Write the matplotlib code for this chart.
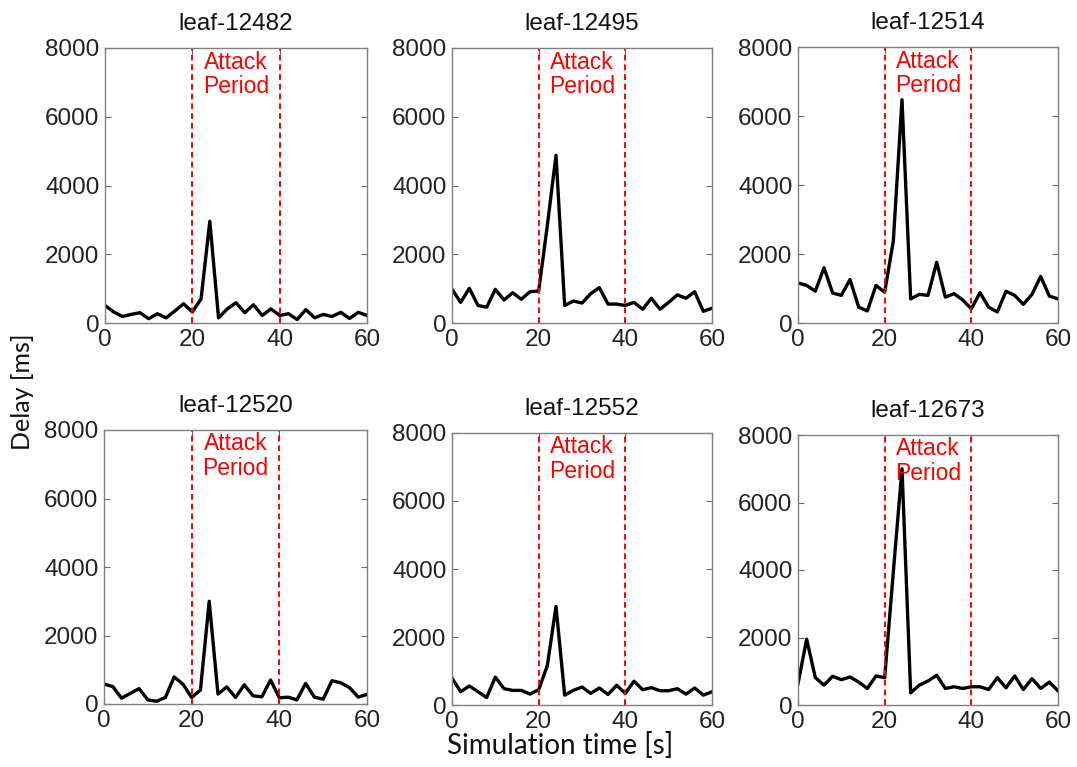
import numpy as np
import matplotlib
matplotlib.use("Agg")
import matplotlib.pyplot as plt

# 0..60 s, one sample every 2 s
t = np.arange(0, 61, 2)

titles = ["leaf-12482", "leaf-12495", "leaf-12514",
          "leaf-12520", "leaf-12552", "leaf-12673"]

leaf_12482 = [510, 320, 190, 250, 300, 125, 270, 150, 350, 560, 320, 700, 2960, 150, 410, 590,
              300, 530, 220, 410, 220, 270, 100, 390, 150, 250, 190, 310, 130, 310, 220]
leaf_12495 = [980, 600, 1010, 510, 460, 980, 670, 880, 690, 910, 930, 2840, 4880, 510, 640, 580,
              850, 1030, 550, 550, 510, 600, 400, 720, 400, 600, 820, 720, 910, 340, 430]
leaf_12514 = [1160, 1090, 920, 1600, 870, 800, 1260, 460, 350, 1090, 890, 2380, 6470, 700, 830, 800,
              1760, 750, 850, 670, 410, 880, 460, 320, 920, 800, 540, 830, 1350, 780, 700]
leaf_12520 = [580, 510, 170, 310, 450, 120, 80, 190, 790, 580, 190, 410, 3000, 290, 500, 190,
              560, 240, 210, 700, 180, 200, 120, 600, 200, 140, 680, 620, 480, 200, 280]
leaf_12552 = [790, 390, 560, 390, 220, 820, 480, 430, 430, 320, 450, 1160, 2900, 290, 430, 530,
              340, 500, 310, 580, 340, 700, 450, 510, 420, 420, 480, 320, 500, 290, 390]
leaf_12673 = [630, 1950, 810, 590, 850, 750, 830, 680, 490, 860, 810, 3950, 7000, 360, 590, 710,
              880, 490, 540, 490, 540, 540, 460, 810, 510, 860, 460, 780, 490, 680, 420]

series = [leaf_12482, leaf_12495, leaf_12514, leaf_12520, leaf_12552, leaf_12673]

attack_start, attack_end = 20, 40

# axes boxes in pixels: left, top, right, bottom
boxes = [(105, 48, 367, 323), (452, 48, 712, 323), (798, 47, 1058, 323),
         (104, 430, 367, 704), (452, 433, 712, 705), (798, 435, 1058, 705)]

W, H = 1077, 767
fig = plt.figure(figsize=(W / 100, H / 100), dpi=100)
arial = ["Liberation Sans", "DejaVu Sans"]

for (l, tp, r, b), name, y in zip(boxes, titles, series):
    ax = fig.add_axes([l / W, (H - b) / H, (r - l) / W, (b - tp) / H])
    ax.plot(t, y, color="black", lw=2.4)
    ax.axvline(attack_start, color="red", ls="--", lw=1.4, dashes=(3, 2))
    ax.axvline(attack_end, color="red", ls="--", lw=1.4, dashes=(3, 2))
    ax.text(30, 7230, "Attack\nPeriod", color="red", ha="center", va="center",
            fontsize=16.5, family=arial, linespacing=1.1)
    ax.set_xlim(0, 60)
    ax.set_ylim(0, 8000)
    ax.set_xticks([0, 20, 40, 60])
    ax.set_yticks([0, 2000, 4000, 6000, 8000])
    ax.tick_params(direction="in", length=4, width=0.8, color="#666666",
                   top=True, right=True, labelsize=17.5, pad=4)
    for lab in ax.get_xticklabels() + ax.get_yticklabels():
        lab.set_family(arial)
        lab.set_color("#222222")
    for sp in ax.spines.values():
        sp.set_color("#808080")
        sp.set_linewidth(1.0)
    ax.set_title(name, fontsize=17.5, family=arial, pad=13, color="#111111")

fig.text(560 / W, 1 - 745 / H, "Simulation time [s]", ha="center", va="center",
         fontsize=20, family="Lato", color="#111111")
fig.text(22 / W, 1 - 392 / H, "Delay [ms]", ha="center", va="center", rotation=90,
         fontsize=18, family="Lato", color="#111111")

fig.savefig("out.png", dpi=100, facecolor="white")
